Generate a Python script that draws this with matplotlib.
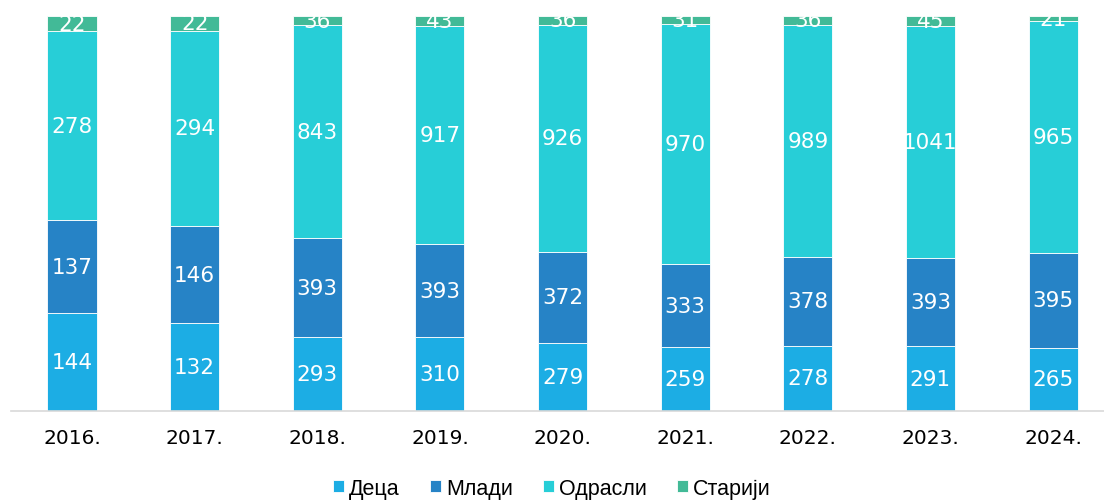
import numpy as np
import matplotlib
matplotlib.use('Agg')
import matplotlib.pyplot as plt

years = ['2016.', '2017.', '2018.', '2019.', '2020.', '2021.', '2022.', '2023.', '2024.']
deca = [144, 132, 293, 310, 279, 259, 278, 291, 265]
mladi = [137, 146, 393, 393, 372, 333, 378, 393, 395]
odrasli = [278, 294, 843, 917, 926, 970, 989, 1041, 965]
stariji = [22, 22, 36, 43, 36, 31, 36, 45, 21]

series = [('Деца', deca, '#1CADE4'),
          ('Млади', mladi, '#2683C6'),
          ('Одрасли', odrasli, '#27CED7'),
          ('Старији', stariji, '#42BA97')]

totals = np.sum([np.array(s[1]) for s in series], axis=0)
x = np.arange(len(years))

fig = plt.figure(figsize=(11.04, 5.02), dpi=100)
ax = fig.add_axes([0.0097, 0.179, 0.9997, 0.787])

bottom = np.zeros(len(years))
for name, vals, color in series:
    share = np.array(vals) / totals
    ax.bar(x, share, 0.4, bottom=bottom, color=color, edgecolor='white',
           linewidth=0.6, label=name)
    for xi, b, s, v in zip(x, bottom, share, vals):
        ax.text(xi, b + s / 2, str(v), ha='center', va='center', color='white',
                fontsize=15.5, family='DejaVu Sans', clip_on=True)
    bottom += share

ax.set_xlim(-0.5, len(years) - 0.5)
ax.set_ylim(0, 1)
ax.set_yticks([])
ax.set_xticks(x)
ax.set_xticklabels(years, fontsize=14.5, family='DejaVu Sans')
ax.tick_params(axis='x', length=0, pad=12)
for sp in ['top', 'right', 'left']:
    ax.spines[sp].set_visible(False)
ax.spines['bottom'].set_color('#D9D9D9')
ax.spines['bottom'].set_linewidth(1.2)

fig.legend(loc='lower center', bbox_to_anchor=(0.5, -0.034), ncol=4, frameon=False,
           prop={'family': 'Liberation Sans', 'size': 15.5},
           handlelength=0.5, handleheight=0.5, handletextpad=0.25, columnspacing=1.4)

fig.savefig('out.png', dpi=100)
